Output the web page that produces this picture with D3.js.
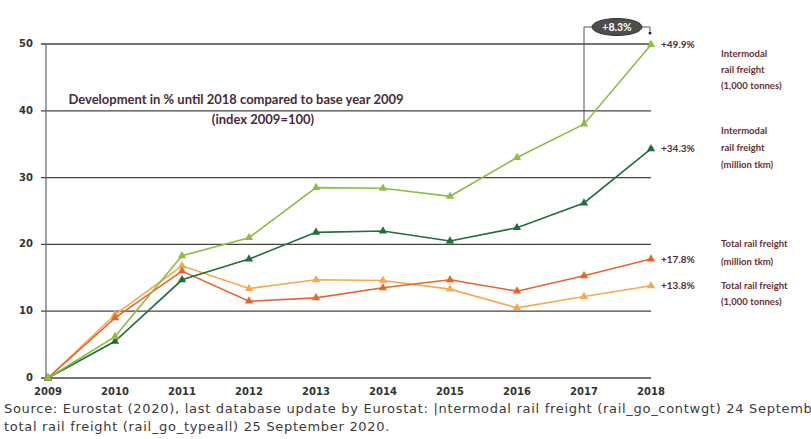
<!DOCTYPE html>
<html lang="en">
<head>
<meta charset="utf-8">
<title>Rail freight development 2009-2018</title>
<script src="https://cdn.jsdelivr.net/npm/d3@7"></script>
<style>
  body { margin: 0; background: #fff; }
  .tick-lbl { font-family: "DejaVu Sans", sans-serif; font-size: 10px; font-weight: bold; fill: #333; }
  .note { font-family: Lato, "Open Sans", sans-serif; font-size: 13px; font-weight: bold; fill: #4a2a3c; text-anchor: middle; }
  .pct { font-family: Lato, sans-serif; font-size: 10px; font-weight: bold; fill: #5a2a2a; }
  .serie { font-family: Lato, sans-serif; font-size: 9.5px; font-weight: bold; fill: #6a3030; }
  .src { font-family: "DejaVu Sans", sans-serif; font-size: 13px; letter-spacing: 0.7px; fill: #3a3a3a; }
</style>
</head>
<body>
<script>
var years = [2009, 2010, 2011, 2012, 2013, 2014, 2015, 2016, 2017, 2018];
var intermodalTonnes = [0, 6.2, 18.3, 21.0, 28.5, 28.4, 27.2, 33.0, 38.0, 49.9];
var intermodalTkm    = [0, 5.5, 14.7, 17.8, 21.8, 22.0, 20.5, 22.5, 26.2, 34.3];
var totalTkm         = [0, 9.0, 16.0, 11.5, 12.0, 13.5, 14.7, 13.0, 15.3, 17.8];
var totalTonnes      = [0, 9.5, 16.8, 13.4, 14.7, 14.6, 13.3, 10.5, 12.2, 13.8];
var yTicks = [0, 10, 20, 30, 40, 50];
var endLabels = ["+49.9%", "+34.3%", "+17.8%", "+13.8%"];
var serieNames = [
  ["Intermodal", "rail freight", "(1,000 tonnes)"],
  ["Intermodal", "rail freight", "(million tkm)"],
  ["Total rail freight", "(million tkm)"],
  ["Total rail freight", "(1,000 tonnes)"]
];

var w = 811, h = 439;
var svg = d3.select("body").append("svg").attr("width", w).attr("height", h);

var x = d3.scaleLinear().domain([2009, 2018]).range([48, 651]);
var y = d3.scaleLinear().domain([0, 50]).range([378, 44]);

// grid lines
svg.append("g").selectAll("line").data(yTicks).enter().append("line")
  .attr("x1", 41).attr("x2", 651)
  .attr("y1", function(d) { return y(d); }).attr("y2", function(d) { return y(d); })
  .attr("stroke", "#444").attr("stroke-width", 1.3);

svg.append("line").attr("x1", 46).attr("x2", 46).attr("y1", y(50)).attr("y2", y(0))
  .attr("stroke", "#666").attr("stroke-width", 1.2);

svg.append("g").selectAll("text").data(yTicks).enter().append("text")
  .attr("class", "tick-lbl").attr("x", 33).attr("y", function(d) { return y(d) + 3; })
  .attr("text-anchor", "end").text(function(d) { return d; });

svg.append("g").selectAll("text").data(years).enter().append("text")
  .attr("class", "tick-lbl").attr("x", function(d) { return x(d); }).attr("y", 395)
  .attr("text-anchor", "middle").text(function(d) { return d; });

// series, drawn back to front
var series = [
  { vals: totalTonnes, color: "#f5a850" },
  { vals: totalTkm, color: "#e5652e" },
  { vals: intermodalTkm, color: "#1f6f3a" },
  { vals: intermodalTonnes, color: "#8fbc45" }
];

var line = d3.line().x(function(d, i) { return x(years[i]); }).y(function(d) { return y(d); });
var tri = d3.symbol().type(d3.symbolTriangle).size(30);

series.forEach(function(s) {
  svg.append("path").datum(s.vals).attr("d", line)
    .attr("fill", "none").attr("stroke", s.color).attr("stroke-width", 1.6);
  svg.append("g").selectAll("path").data(s.vals).enter().append("path")
    .attr("d", tri)
    .attr("transform", function(d, i) { return "translate(" + x(years[i]) + "," + y(d) + ")"; })
    .attr("fill", s.color);
});

// end value labels
var lastVals = [intermodalTonnes[9], intermodalTkm[9], totalTkm[9], totalTonnes[9]];
svg.append("g").selectAll("text").data(endLabels).enter().append("text")
  .attr("class", "pct").attr("x", 661)
  .attr("y", function(d, i) { return y(lastVals[i]) + 3.5; })
  .text(function(d) { return d; });

// series names on the right
var nameY = [[57, 73, 89], [134, 151, 168], [247, 265], [289, 305]];
serieNames.forEach(function(lines, k) {
  svg.append("g").selectAll("text").data(lines).enter().append("text")
    .attr("class", "serie").attr("x", 721)
    .attr("y", function(d, i) { return nameY[k][i]; })
    .text(function(d) { return d; });
});

// note
svg.append("text").attr("class", "note").attr("x", 236).attr("y", 104)
  .text("Development in % until 2018 compared to base year 2009");
svg.append("text").attr("class", "note").attr("x", 263).attr("y", 124)
  .text("(index 2009=100)");

// +8.3% bracket between 2017 and 2018
var bx1 = x(2017), bx2 = x(2018) - 1, by = 27;
svg.append("path")
  .attr("d", "M" + bx1 + "," + (y(intermodalTonnes[8]) - 3) + "V" + by + "H" + bx2 + "V" + 31)
  .attr("fill", "none").attr("stroke", "#555").attr("stroke-width", 1);
svg.append("circle").attr("cx", bx2).attr("cy", 33).attr("r", 1.5).attr("fill", "#222");
svg.append("ellipse").attr("cx", 617).attr("cy", by).attr("rx", 25).attr("ry", 8.5)
  .attr("fill", "#4d4d4d").attr("stroke", "#333").attr("stroke-width", 1);
svg.append("text").attr("x", 617).attr("y", by + 3.5).attr("text-anchor", "middle")
  .attr("font-family", "Lato, sans-serif").attr("font-size", 10.5).attr("font-weight", "bold")
  .attr("fill", "#fff").text("+8.3%");

// source
svg.append("text").attr("class", "src").attr("x", 4).attr("y", 413)
  .text("Source: Eurostat (2020), last database update by Eurostat: |ntermodal rail freight (rail_go_contwgt) 24 September");
svg.append("text").attr("class", "src").attr("x", 4).attr("y", 431)
  .text("total rail freight (rail_go_typeall) 25 September 2020.");
</script>
</body>
</html>
